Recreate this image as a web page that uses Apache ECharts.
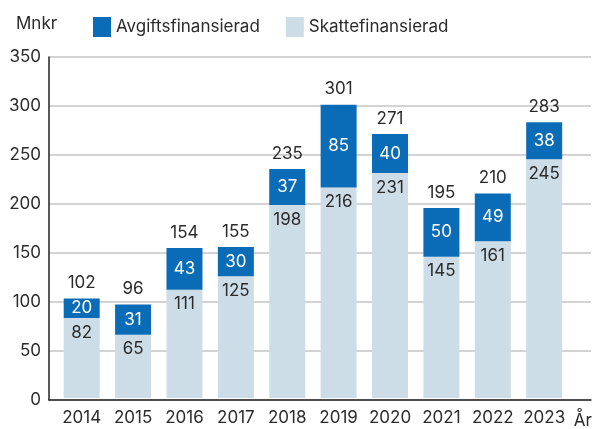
<!DOCTYPE html>
<html>
<head>
<meta charset="utf-8">
<script src="https://cdn.jsdelivr.net/npm/echarts@6/dist/echarts.min.js"></script>
<style>
  html, body { margin: 0; padding: 0; background: #fff; }
  #chart { width: 595px; height: 429px; }
</style>
</head>
<body>
<div id="chart"></div>
<script>
const years = ['2014', '2015', '2016', '2017', '2018', '2019', '2020', '2021', '2022', '2023'];
const skatt = [82, 65, 111, 125, 198, 216, 231, 145, 161, 245];
const avgift = [20, 31, 43, 30, 37, 85, 40, 50, 49, 38];
const totals = [102, 96, 154, 155, 235, 301, 271, 195, 210, 283];

const FONT = 'Inter';
const TXT = '#2b2b2b';

const myChart = echarts.init(document.getElementById('chart'));

const option = {
	animation: false,
	textStyle: { fontFamily: FONT },
	title: {
		text: 'Mnkr',
		left: 11,
		top: 10,
		textStyle: { fontFamily: FONT, fontSize: 17, fontWeight: 'normal', color: TXT }
	},
	legend: {
		left: 88,
		top: 12,
		itemWidth: 18,
		itemHeight: 20,
		itemGap: 26,
		icon: 'rect',
		data: ['Avgiftsfinansierad', 'Skattefinansierad'],
		textStyle: { fontFamily: FONT, fontSize: 17, color: TXT }
	},
	grid: [
		// background grid: axis lines and gridlines
		{ left: 49, right: 4, top: 57, bottom: 29 },
		// bars
		{ left: 56, right: 25, top: 57, bottom: 29 }
	],
	xAxis: [
		{
			gridIndex: 0,
			type: 'category',
			data: years,
			axisLine: { lineStyle: { color: '#222', width: 1.5 } },
			axisTick: { show: false },
			axisLabel: { show: false }
		},
		{
			gridIndex: 1,
			type: 'category',
			data: years,
			axisLine: { show: false },
			axisTick: { show: false },
			axisLabel: { interval: 0, margin: 11, fontFamily: FONT, fontSize: 17, color: TXT },
			name: 'År',
			nameGap: 4,
			nameTextStyle: { fontFamily: FONT, fontSize: 17, color: TXT, verticalAlign: 'top', padding: [14, 0, 0, 0] }
		}
	],
	yAxis: [
		{
			gridIndex: 0,
			type: 'value',
			min: 0,
			max: 350,
			interval: 50,
			axisLine: { show: true, lineStyle: { color: '#222', width: 1.5 } },
			axisTick: { show: false },
			axisLabel: { margin: 8, fontFamily: FONT, fontSize: 17, color: TXT },
			splitLine: { lineStyle: { color: '#c4c4c4', width: 1.5 } }
		},
		{
			gridIndex: 1,
			type: 'value',
			min: 0,
			max: 350,
			interval: 50,
			axisLine: { show: false },
			axisTick: { show: false },
			axisLabel: { show: false },
			splitLine: { show: false }
		}
	],
	series: [
		{
			name: 'Skattefinansierad',
			type: 'bar',
			xAxisIndex: 1,
			yAxisIndex: 1,
			stack: 'total',
			barWidth: 36,
			itemStyle: { color: '#cddde7' },
			label: {
				show: true,
				position: 'insideTop',
				distance: 6,
				fontFamily: FONT,
				fontSize: 17,
				color: TXT
			},
			data: skatt
		},
		{
			name: 'Avgiftsfinansierad',
			type: 'bar',
			xAxisIndex: 1,
			yAxisIndex: 1,
			stack: 'total',
			barWidth: 36,
			itemStyle: { color: '#0a6cb6' },
			label: {
				show: true,
				position: 'inside',
				fontFamily: FONT,
				fontSize: 17,
				color: '#fff'
			},
			data: avgift
		},
		{
			name: 'Totalt',
			type: 'bar',
			xAxisIndex: 1,
			yAxisIndex: 1,
			stack: 'total',
			barWidth: 36,
			itemStyle: { color: 'transparent' },
			label: {
				show: true,
				position: 'top',
				distance: 7,
				fontFamily: FONT,
				fontSize: 17,
				color: TXT,
				formatter: (p) => totals[p.dataIndex]
			},
			data: years.map(() => 0)
		}
	]
};

myChart.setOption(option);
</script>
</body>
</html>
